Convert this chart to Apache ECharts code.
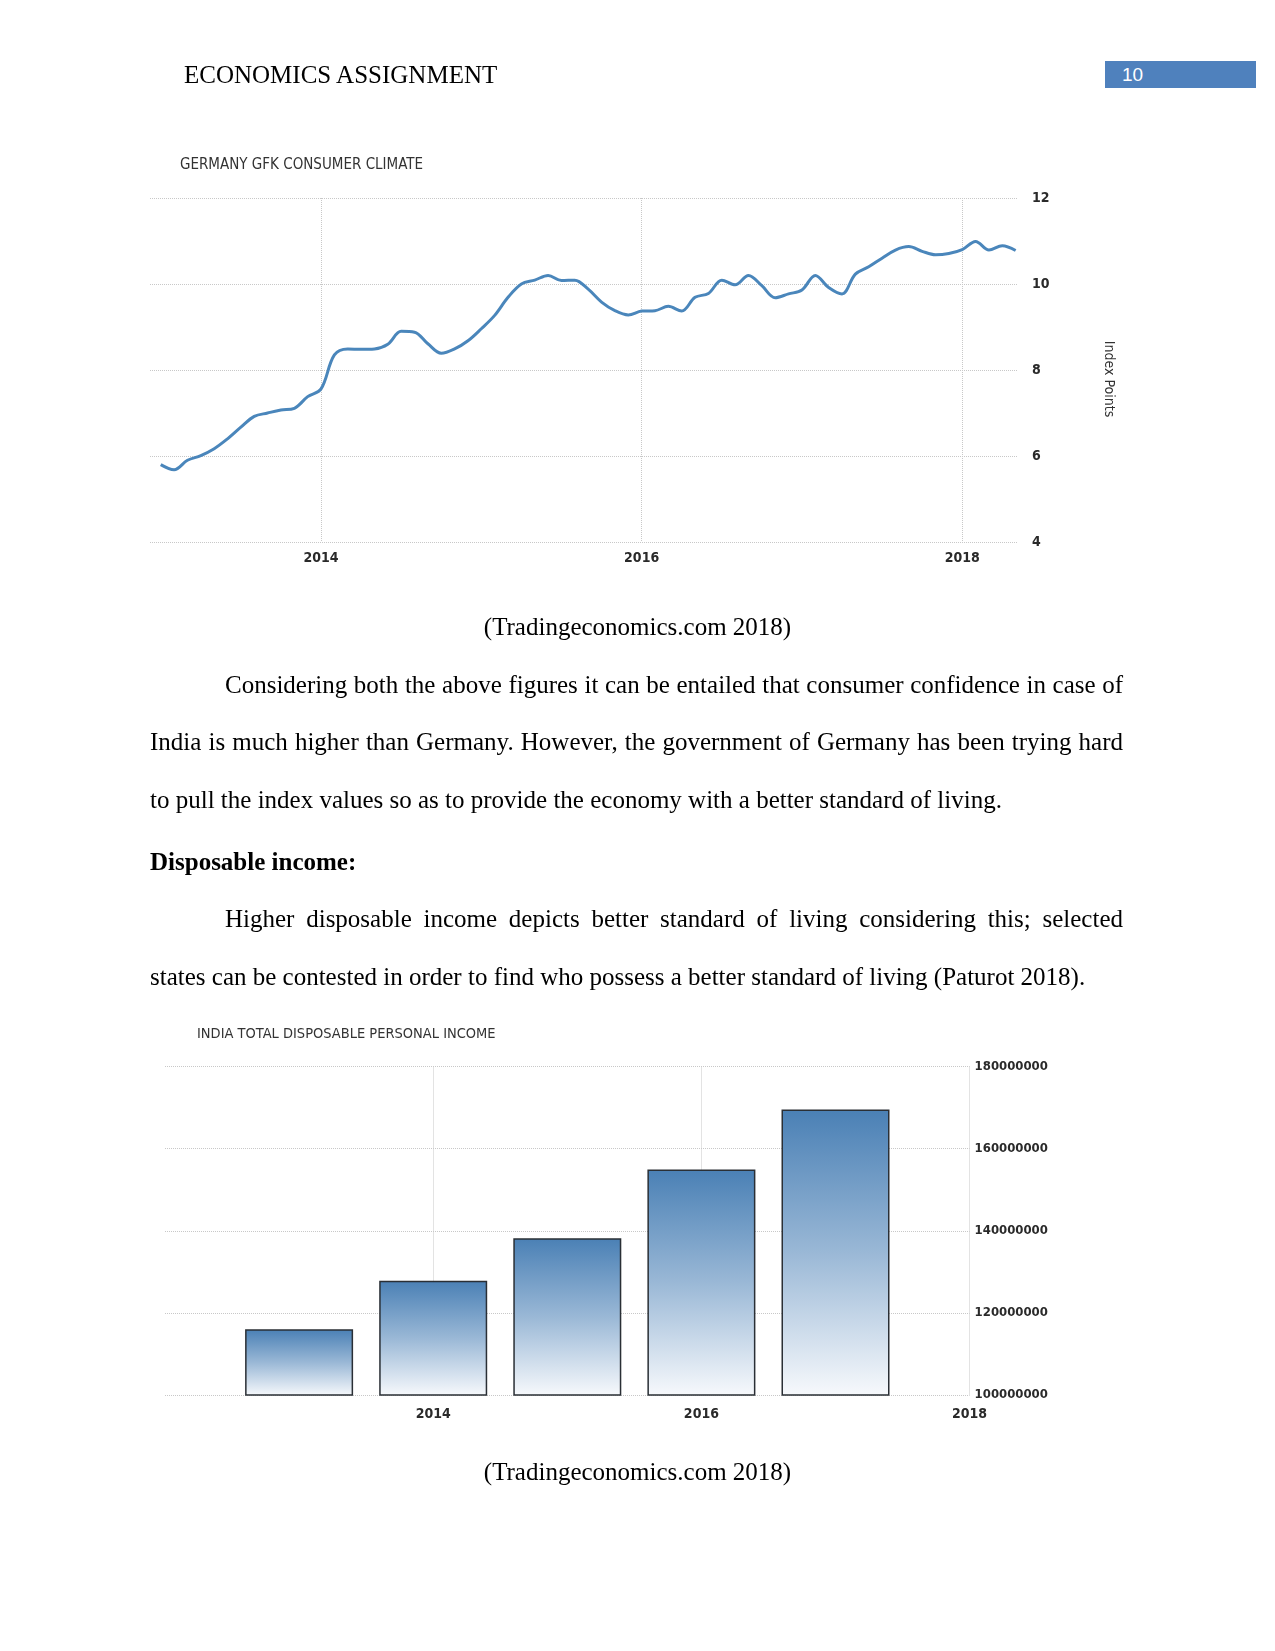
<!DOCTYPE html>
<html>
<head>
<meta charset="utf-8">
<script src="https://cdn.jsdelivr.net/npm/echarts@6/dist/echarts.min.js"></script>
<style>
  html, body { margin: 0; padding: 0; background: #fff; }
  #page { position: relative; width: 1275px; height: 1651px; overflow: hidden; }
  #chart { position: absolute; left: 0; top: 0; width: 1275px; height: 1651px; }
  .t { position: absolute; font-family: "Liberation Serif", "Times New Roman", serif; font-size: 25px; line-height: 30px; color: #000; white-space: nowrap; }
  .j { text-align: justify; text-align-last: justify; white-space: normal; }
  .pn { position: absolute; left: 1105px; top: 61px; width: 151px; height: 27px; background: #4f81bd; color: #fff; font-family: "Liberation Sans", Arial, sans-serif; font-size: 19px; line-height: 27px; }
</style>
</head>
<body>
<div id="page">
  <div id="chart"></div>
  <div class="t" style="left:184px;top:60px;">ECONOMICS ASSIGNMENT</div>
  <div class="pn"><span style="margin-left:17px">10</span></div>
  <div class="t" style="left:150px;width:975px;top:612px;text-align:center;">(Tradingeconomics.com 2018)</div>
  <div class="t j" style="left:225px;width:898px;top:670px;">Considering both the above figures it can be entailed that consumer confidence in case of</div>
  <div class="t j" style="left:150px;width:973px;top:727px;">India is much higher than Germany. However, the government of Germany has been trying hard</div>
  <div class="t" style="left:150px;top:785px;">to pull the index values so as to provide the economy with a better standard of living.</div>
  <div class="t" style="left:150px;top:847px;font-weight:bold;">Disposable income:</div>
  <div class="t j" style="left:225px;width:898px;top:904px;">Higher disposable income depicts better standard of living considering this; selected</div>
  <div class="t" style="left:150px;top:962px;">states can be contested in order to find who possess a better standard of living (Paturot 2018).</div>
  <div class="t" style="left:150px;width:975px;top:1457px;text-align:center;">(Tradingeconomics.com 2018)</div>
</div>
<script>
// ---- Germany GfK consumer climate (monthly) ----
const gfkMonths = [
  '2013-01','2013-02','2013-03','2013-04','2013-05','2013-06','2013-07','2013-08','2013-09','2013-10','2013-11','2013-12',
  '2014-01','2014-02','2014-03','2014-04','2014-05','2014-06','2014-07','2014-08','2014-09','2014-10','2014-11','2014-12',
  '2015-01','2015-02','2015-03','2015-04','2015-05','2015-06','2015-07','2015-08','2015-09','2015-10','2015-11','2015-12',
  '2016-01','2016-02','2016-03','2016-04','2016-05','2016-06','2016-07','2016-08','2016-09','2016-10','2016-11','2016-12',
  '2017-01','2017-02','2017-03','2017-04','2017-05','2017-06','2017-07','2017-08','2017-09','2017-10','2017-11','2017-12',
  '2018-01','2018-02','2018-03','2018-04','2018-05'
];
const gfkValues = [
  5.80, 5.68, 5.90, 6.01, 6.17, 6.40, 6.67, 6.92, 7.00, 7.07, 7.11, 7.38,
  7.56, 8.35, 8.49, 8.48, 8.49, 8.60, 8.90, 8.88, 8.61, 8.39, 8.49, 8.68,
  8.96, 9.27, 9.69, 10.00, 10.09, 10.20, 10.08, 10.09, 9.88, 9.58, 9.38, 9.28,
  9.37, 9.38, 9.48, 9.37, 9.69, 9.78, 10.09, 9.98, 10.20, 9.96, 9.68, 9.77,
  9.86, 10.20, 9.92, 9.77, 10.23, 10.40, 10.60, 10.79, 10.87, 10.76, 10.68, 10.71,
  10.80, 10.99, 10.79, 10.89, 10.78
];
const gfkYearTicks = [2014, 2016, 2018];

// ---- India total disposable personal income (annual) ----
const incomeYears = [2013, 2014, 2015, 2016, 2017];
const incomeValues = [116000000, 127800000, 138200000, 154900000, 169500000];
const incomeYearTicks = [2014, 2016, 2018];

function monthToYear(s) {
  const p = s.split('-');
  return Number(p[0]) + (Number(p[1]) - 1) / 12;
}
const gfkData = gfkMonths.map((m, i) => [monthToYear(m), gfkValues[i]]);
const incomeData = incomeYears.map((y, i) => [y, incomeValues[i]]);

const chartFont = '"DejaVu Sans Condensed", "Liberation Sans", sans-serif';
const gridLine = { show: true, lineStyle: { color: '#c8c8c8', type: 'dotted', width: 1 } };
const plain = v => String(Math.round(v));
function labelStyle(size) {
  return { fontFamily: chartFont, fontSize: size, fontWeight: 'bold', color: '#2a2a2a', formatter: plain };
}

const chart = echarts.init(document.getElementById('chart'), null, { renderer: 'canvas' });
chart.setOption({
  animation: false,
  title: [
    { text: 'GERMANY GFK CONSUMER CLIMATE', left: 180, top: 158, padding: 0,
      textStyle: { fontFamily: chartFont, fontSize: 15, fontWeight: 'normal', color: '#333' } },
    { text: 'INDIA TOTAL DISPOSABLE PERSONAL INCOME', left: 197, top: 1027, padding: 0,
      textStyle: { fontFamily: chartFont, fontSize: 14.5, fontWeight: 'normal', color: '#333' } }
  ],
  graphic: [
    { type: 'text', x: 1109, y: 379, rotation: -Math.PI / 2,
      style: { text: 'Index Points', fontFamily: chartFont, fontSize: 14, fill: '#333',
               align: 'center', verticalAlign: 'middle' } }
  ],
  grid: [
    { left: 150, top: 198, width: 868, height: 344 },
    { left: 165, top: 1066.5, width: 804.6, height: 328.5 }
  ],
  xAxis: [
    { gridIndex: 0, type: 'value', min: 2012.933, max: 2018.348,
      axisLine: { show: false },
      axisTick: { show: false, customValues: gfkYearTicks },
      axisLabel: Object.assign({ customValues: gfkYearTicks, margin: 9 }, labelStyle(14)),
      splitLine: gridLine },
    { gridIndex: 1, type: 'value', min: 2012, max: 2018,
      axisLine: { show: false },
      axisTick: { show: false, customValues: incomeYearTicks },
      axisLabel: Object.assign({ customValues: incomeYearTicks, margin: 12 }, labelStyle(14)),
      splitLine: gridLine }
  ],
  yAxis: [
    { gridIndex: 0, type: 'value', position: 'right', min: 4, max: 12, interval: 2,
      axisLine: { show: false }, axisTick: { show: false },
      axisLabel: Object.assign({ margin: 14 }, labelStyle(14)),
      splitLine: gridLine },
    { gridIndex: 1, type: 'value', position: 'right', min: 100000000, max: 180000000, interval: 20000000,
      axisLine: { show: false }, axisTick: { show: false },
      axisLabel: Object.assign({ margin: 5 }, labelStyle(13)),
      splitLine: gridLine }
  ],
  series: [
    { type: 'line', xAxisIndex: 0, yAxisIndex: 0, data: gfkData, smooth: 0.35,
      showSymbol: false, lineStyle: { color: '#4a86bb', width: 3 } },
    { type: 'bar', xAxisIndex: 1, yAxisIndex: 1, data: incomeData, barWidth: 108,
      itemStyle: {
        color: new echarts.graphic.LinearGradient(0, 0, 0, 1, [
          { offset: 0, color: '#4a80b5' },
          { offset: 0.5, color: '#9ab8d6' },
          { offset: 1, color: '#f7f9fc' }
        ]),
        borderColor: '#2a2f35', borderWidth: 1.5
      } }
  ]
});
</script>
</body>
</html>
